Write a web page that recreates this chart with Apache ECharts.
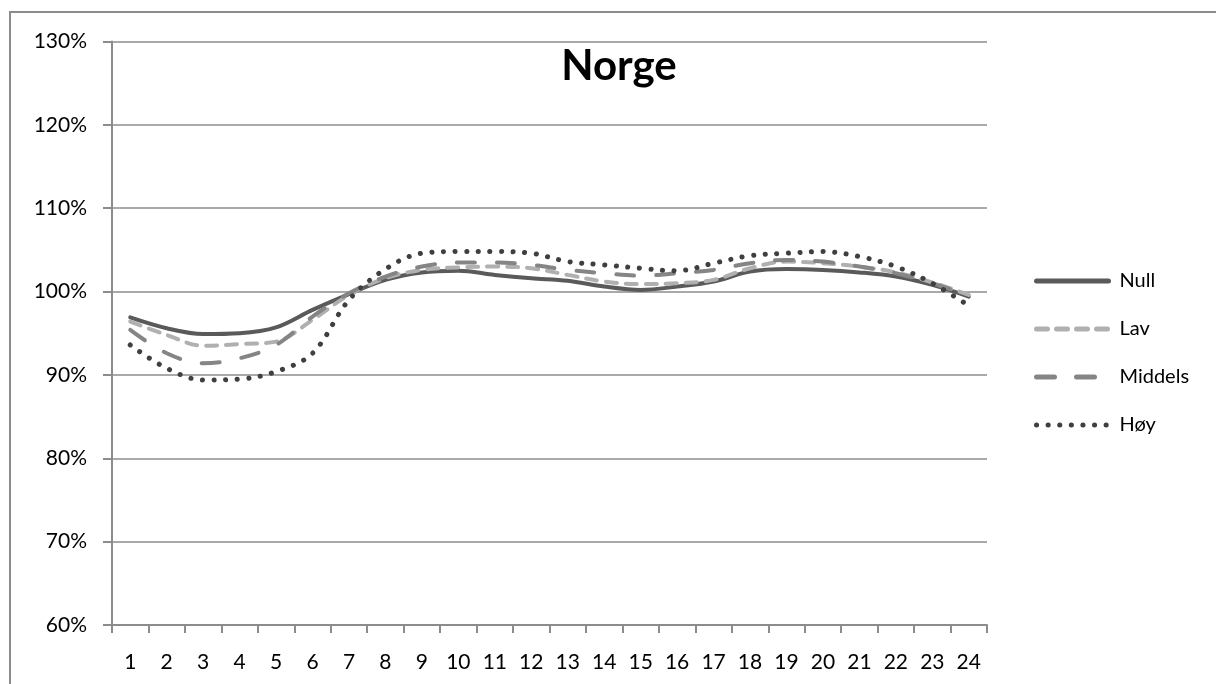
<!DOCTYPE html>
<html><head><meta charset="utf-8">
<script src="https://cdn.jsdelivr.net/npm/echarts@6/dist/echarts.min.js"></script>
<style>html,body{margin:0;padding:0;background:#fff}#c{width:1216px;height:684px}</style>
</head><body><div id="c"></div>
<script>
const categories = ['1','2','3','4','5','6','7','8','9','10','11','12','13','14','15','16','17','18','19','20','21','22','23','24'];
const nullVals = [96.9,95.6,94.9,95.0,95.7,97.8,99.7,101.4,102.3,102.5,102.0,101.6,101.3,100.6,100.2,100.6,101.2,102.4,102.7,102.6,102.3,101.8,100.8,99.4];
const lavVals = [96.4,94.8,93.5,93.7,94.0,96.6,99.6,101.6,102.6,102.9,103.0,102.8,102.0,101.2,100.9,101.0,101.4,102.8,103.6,103.4,103.0,102.3,101.1,99.6];
const middelsVals = [95.4,92.6,91.4,92.0,93.6,97.0,99.8,101.8,103.0,103.5,103.5,103.2,102.6,102.2,101.9,102.2,102.6,103.4,103.8,103.6,103.0,102.2,101.0,99.5];
const hoyVals = [93.6,90.8,89.4,89.5,90.4,92.6,99.0,102.7,104.6,104.8,104.8,104.6,103.6,103.2,102.8,102.5,103.4,104.3,104.6,104.8,104.2,103.0,101.0,98.3];
const seriesNames = ['Null','Lav','Middels','Høy'];
const yTicks = [60,70,80,90,100,110,120,130];

const font = 'Lato, "Open Sans", sans-serif';
const chart = echarts.init(document.getElementById('c'));
function mk(name, data, color, type, width) {
  return {name, type:'line', data, smooth:0.35, symbol:'none',
    lineStyle:{color, width:width||4, type, cap:'round'}, itemStyle:{color}};
}
chart.setOption({
  animation:false,
  backgroundColor:'#fff',
  graphic:[{type:'rect', shape:{x:10,y:12,width:1300,height:800}, style:{fill:null, stroke:'#8c8c8c', lineWidth:2}, silent:true}],
  title:{text:'Norge', left:614, top:40, textAlign:'center',
    textStyle:{fontFamily:font, fontWeight:'bold', fontSize:42, color:'#000'}},
  grid:{left:112, right:229, top:41.5, bottom:59, containLabel:false},
  legend:{orient:'vertical', left:1029, top:266, itemWidth:72, itemHeight:14, itemGap:28,
    itemStyle:{opacity:0, borderWidth:0},
    lineStyle:{width:5},
    textStyle:{fontFamily:font, fontSize:20, color:'#000', padding:[0,0,0,6]}, data:seriesNames},
  xAxis:{type:'category', data:categories, boundaryGap:true,
    axisLine:{lineStyle:{color:'#8c8c8c', width:2}},
    axisTick:{show:true, length:8, interval:0, lineStyle:{color:'#8c8c8c', width:2}},
    axisLabel:{fontFamily:font, fontSize:21, color:'#000', margin:27, interval:0}},
  yAxis:{type:'value', min:60, max:130, interval:10,
    axisLine:{show:true, lineStyle:{color:'#8c8c8c', width:2}},
    axisTick:{show:true, length:9, lineStyle:{color:'#8c8c8c', width:2}},
    splitLine:{lineStyle:{color:'#8c8c8c', width:1.5}},
    axisLabel:{fontFamily:font, fontSize:21, color:'#000', margin:25,
      formatter:v=>yTicks.includes(v)?v+'%':''}},
  series:[
    mk(seriesNames[0], nullVals, '#5a5a5a', 'solid'),
    mk(seriesNames[1], lavVals, '#b0b0b0', [11,9]),
    mk(seriesNames[2], middelsVals, '#858585', [18,22]),
    mk(seriesNames[3], hoyVals, '#3f3f3f', [0.1,11.5], 5)
  ]
});
</script></body></html>
